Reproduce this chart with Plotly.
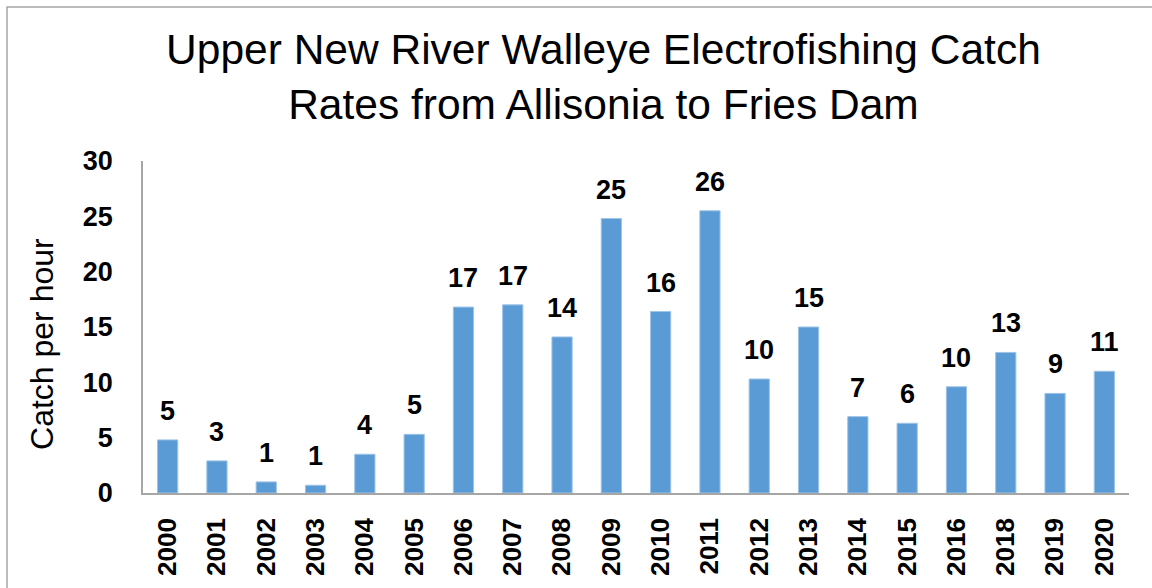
import plotly.graph_objects as go

years = ["2000", "2001", "2002", "2003", "2004", "2005", "2006", "2007", "2008", "2009",
         "2010", "2011", "2012", "2013", "2014", "2015", "2016", "2018", "2019", "2020"]
catch_rate = [4.8, 2.9, 1.0, 0.7, 3.5, 5.3, 16.8, 17.0, 14.1, 24.8,
              16.4, 25.5, 10.3, 15.0, 6.9, 6.3, 9.6, 12.7, 9.0, 11.0]
y_ticks = [0, 5, 10, 15, 20, 25, 30]

ARIAL = "Liberation Sans, Arial, sans-serif"

fig = go.Figure()
fig.add_trace(go.Bar(
    x=years, y=catch_rate,
    marker=dict(color="#5B9BD5", line=dict(color="#9cc3e8", width=1)),
    hoverinfo="x+y",
))

annotations = []
for i, v in enumerate(catch_rate):
    annotations.append(dict(
        x=i, y=v, xref="x", yref="y", text=f"{round(v):d}",
        showarrow=False, yanchor="bottom", yshift=12,
        font=dict(family=ARIAL, size=27, color="black", weight="bold"),
    ))

annotations.append(dict(
    x=-0.1024, y=0.449, xref="paper", yref="paper", text="Catch per hour",
    textangle=-90, showarrow=False, xanchor="center", yanchor="middle",
    font=dict(family=ARIAL, size=32, color="black"),
))

fig.update_layout(
    width=1152, height=588,
    margin=dict(l=143, r=23, t=161, b=90),
    paper_bgcolor="white", plot_bgcolor="white",
    showlegend=False,
    bargap=0.59,
    title=dict(
        text="Upper New River Walleye Electrofishing Catch<br>Rates from Allisonia to Fries Dam",
        x=0.467, xref="paper", xanchor="center",
        y=1 - 64 / 588, yref="container", yanchor="middle",
        font=dict(family=ARIAL, size=42.5, color="black"),
    ),
    xaxis=dict(
        type="category", range=[-0.5, len(years) - 0.5],
        showline=True, linecolor="#a6a6a6", linewidth=1.5,
        showgrid=False, tickangle=-90, ticks="outside", ticklen=13,
        tickcolor="rgba(0,0,0,0)",
        tickfont=dict(family=ARIAL, size=26, color="black", weight="bold"),
    ),
    yaxis=dict(
        range=[0, 30], tickvals=y_ticks, showline=True, linecolor="#a6a6a6",
        linewidth=1.5, showgrid=False, zeroline=False, ticks="outside",
        ticklen=23, tickcolor="rgba(0,0,0,0)",
        tickfont=dict(family=ARIAL, size=27, color="black", weight="bold"),
    ),
    annotations=annotations,
    shapes=[dict(
        type="rect", xref="paper", yref="paper",
        x0=(7 - 143) / 986, x1=1.2, y0=-0.6, y1=(493 - 7) / 332,
        line=dict(color="#a6a6a6", width=1.5), fillcolor="rgba(0,0,0,0)",
        layer="below",
    )],
)

fig.write_html("out.html")
